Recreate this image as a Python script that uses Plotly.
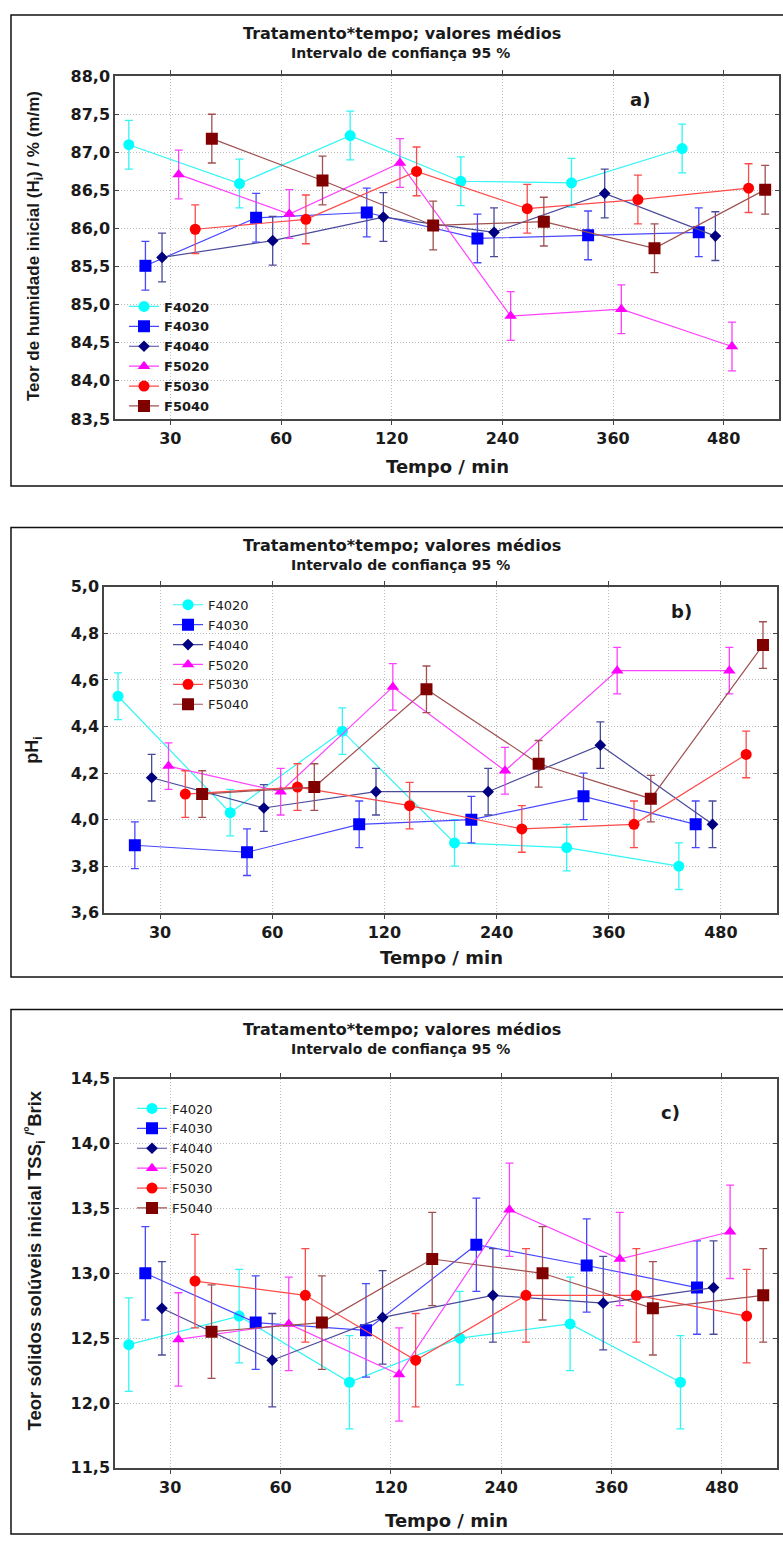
import plotly.graph_objects as go

W, H = 783, 1548

# ---------------- data ----------------
times = ["30", "60", "120", "240", "360", "480"]
series = ["F4020", "F4030", "F4040", "F5020", "F5030", "F5040"]

# a) initial moisture content (%)
a_F4020 = [87.10, 86.59, 87.22, 86.62, 86.60, 87.05]
a_F4030 = [85.51, 86.14, 86.21, 85.87, 85.91, 85.95]
a_F4040 = [85.62, 85.84, 86.15, 85.95, 86.46, 85.90]
a_F5020 = [86.71, 86.19, 86.86, 84.85, 84.94, 84.45]
a_F5030 = [85.99, 86.12, 86.75, 86.26, 86.38, 86.53]
a_F5040 = [87.18, 86.63, 86.04, 86.09, 85.74, 86.51]
a_ci = [0.32, 0.32, 0.32, 0.32, 0.32, 0.32]

# b) initial pH
b_F4020 = [4.53, 4.03, 4.38, 3.90, 3.88, 3.80]
b_F4030 = [3.89, 3.86, 3.98, 4.00, 4.10, 3.98]
b_F4040 = [4.18, 4.05, 4.12, 4.12, 4.32, 3.98]
b_F5020 = [4.23, 4.12, 4.57, 4.21, 4.64, 4.64]
b_F5030 = [4.11, 4.14, 4.06, 3.96, 3.98, 4.28]
b_F5040 = [4.11, 4.14, 4.56, 4.24, 4.09, 4.75]
b_ci = [0.10, 0.10, 0.10, 0.10, 0.10, 0.10]

# c) initial soluble solids (ºBrix)
c_F4020 = [12.45, 12.67, 12.16, 12.50, 12.61, 12.16]
c_F4030 = [13.00, 12.62, 12.56, 13.22, 13.06, 12.89]
c_F4040 = [12.73, 12.33, 12.66, 12.83, 12.77, 12.89]
c_F5020 = [12.49, 12.61, 12.22, 13.49, 13.11, 13.32]
c_F5030 = [12.94, 12.83, 12.33, 12.83, 12.83, 12.67]
c_F5040 = [12.55, 12.62, 13.11, 13.00, 12.73, 12.83]
c_ci = [0.36, 0.36, 0.36, 0.36, 0.36, 0.36]

# ---------------- styles ----------------
marker_colors = ["#00FFFF", "#0000FF", "#000080", "#FF00FF", "#FF0000", "#800000"]
line_colors = ["#33F5F5", "#4848FF", "#4A4A9A", "#FF40FF", "#FF4A4A", "#A05050"]
symbols = ["circle", "square", "diamond", "triangle-up", "circle", "square"]
msizes = [11, 12, 9, 11, 11, 12]
step = 0.15


def X(px):
    return px / W


def Y(py):
    return 1 - py / H


fig = go.Figure()

panels = [
    dict(ax="", leg="legend", data=[a_F4020, a_F4030, a_F4040, a_F5020, a_F5030, a_F5040], ci=a_ci),
    dict(ax="2", leg="legend2", data=[b_F4020, b_F4030, b_F4040, b_F5020, b_F5030, b_F5040], ci=b_ci),
    dict(ax="3", leg="legend3", data=[c_F4020, c_F4030, c_F4040, c_F5020, c_F5030, c_F5040], ci=c_ci),
]

for p in panels:
    for k, name in enumerate(series):
        off = (k - 2.5) * step
        fig.add_trace(go.Scatter(
            x=[i + off for i in range(len(times))],
            y=p["data"][k],
            mode="lines+markers",
            name=name,
            legend=p["leg"],
            xaxis="x" + p["ax"], yaxis="y" + p["ax"],
            line=dict(color=line_colors[k], width=1.2),
            marker=dict(symbol=symbols[k], size=msizes[k], color=marker_colors[k],
                        line=dict(width=0)),
            error_y=dict(type="constant", value=p["ci"][k], color=line_colors[k],
                         thickness=1.3, width=4),
        ))

GRID = "#bdbdbd"
GDASH = "1px,2px"


def xaxis(x0, x1, anchor):
    return dict(domain=[X(x0), X(x1)], anchor=anchor, range=[-0.5, 5.5],
                tickmode="array", tickvals=list(range(len(times))), ticktext=times,
                showgrid=True, gridcolor=GRID, griddash=GDASH, gridwidth=1,
                showline=True, mirror="ticks", linecolor="#444444", linewidth=1.5,
                ticks="outside", ticklen=4, tickcolor="#444444",
                tickfont=dict(family="DejaVu Sans", size=16, color="#1a1a1a", weight="bold"),
                zeroline=False)


def yaxis(y0, y1, anchor, rng, dtick):
    return dict(domain=[Y(y1), Y(y0)], anchor=anchor, range=rng, dtick=dtick, tick0=rng[0],
                tickformat=".1f",
                showgrid=True, gridcolor=GRID, griddash=GDASH, gridwidth=1,
                showline=True, mirror="ticks", linecolor="#444444", linewidth=1.5,
                ticks="inside", ticklen=4, tickcolor="#444444",
                tickfont=dict(family="DejaVu Sans", size=16, color="#1a1a1a", weight="bold"),
                zeroline=False)


legfont_a = dict(family="DejaVu Sans", size=13, color="#1a1a1a", weight="bold")
legfont_bc = dict(family="DejaVu Sans", size=13, color="#1a1a1a")

fig.update_layout(
    width=W, height=H,
    margin=dict(l=0, r=0, t=0, b=0),
    paper_bgcolor="white", plot_bgcolor="white",
    separators=",.",
    font=dict(family="DejaVu Sans", color="#1a1a1a"),
    xaxis=xaxis(115, 779, "y"),
    yaxis=yaxis(68, 415, "x", [83.5, 88.0], 0.5),
    xaxis2=xaxis(104, 777, "y2"),
    yaxis2=yaxis(585, 915, "x2", [3.6, 5.0], 0.2),
    xaxis3=xaxis(115, 777, "y3"),
    yaxis3=yaxis(1083, 1477, "x3", [11.5, 14.5], 0.5),
    legend=dict(x=X(124), y=Y(286), xanchor="left", yanchor="top", itemwidth=30,
                bgcolor="rgba(0,0,0,0)", font=legfont_a, tracegroupgap=0),
    legend2=dict(x=X(168), y=Y(588), xanchor="left", yanchor="top", itemwidth=30,
                 bgcolor="rgba(0,0,0,0)", font=legfont_bc, tracegroupgap=0),
    legend3=dict(x=X(132), y=Y(1098), xanchor="left", yanchor="top", itemwidth=30,
                 bgcolor="rgba(0,0,0,0)", font=legfont_bc, tracegroupgap=0),
)

# outer frames of the three panels
for (t, b) in [(6, 483), (525, 980), (1013, 1544)]:
    fig.add_shape(type="rect", xref="paper", yref="paper",
                  x0=X(11), x1=1.02, y0=Y(b), y1=Y(t),
                  line=dict(color="#111111", width=1.5), fillcolor="rgba(0,0,0,0)", layer="below")

ann = []
title_font = dict(family="DejaVu Sans", size=16, color="#1a1a1a", weight="bold")
sub_font = dict(family="DejaVu Sans", size=14, color="#1a1a1a", weight="bold")
for (ty, sy) in [(25, 45), (543, 563), (1033, 1053)]:
    ann.append(dict(text="Tratamento*tempo; valores médios", x=X(402), y=Y(ty), font=title_font))
    ann.append(dict(text="Intervalo de confiança 95 %", x=X(401), y=Y(sy), font=sub_font))

xt_font = dict(family="DejaVu Sans", size=18, color="#1a1a1a", weight="bold")
for (xx, yy) in [(447, 463), (441, 960), (446, 1530)]:
    ann.append(dict(text="Tempo / min", x=X(xx), y=Y(yy), font=xt_font))

ann.append(dict(text="Teor de humidade inicial (H<sub>i</sub>) / % (m/m)", x=X(35), y=Y(240),
                textangle=-90,
                font=dict(family="Liberation Sans", size=17, color="#1a1a1a", weight="bold")))
ann.append(dict(text="pH<sub>i</sub>", x=X(34), y=Y(750), textangle=-90,
                font=dict(family="Liberation Sans", size=18, color="#1a1a1a", weight="bold")))
ann.append(dict(text="Teor sólidos solúveis inicial TSS<sub>i</sub> <sup>/º</sup>Brix", x=X(35), y=Y(1267),
                textangle=-90,
                font=dict(family="Liberation Sans", size=18.5, color="#1a1a1a", weight="bold")))

lab_font = dict(family="DejaVu Sans", size=18, color="#1a1a1a", weight="bold")
for (t, xx, yy) in [("a)", 640, 92), ("b)", 681, 610), ("c)", 670, 1117)]:
    ann.append(dict(text=t, x=X(xx), y=Y(yy), font=lab_font))

for a in ann:
    a.update(xref="paper", yref="paper", showarrow=False, xanchor="center", yanchor="middle")
fig.update_layout(annotations=ann)

fig.write_html(
    "out.html",
    config={"displayModeBar": False},
    post_script="document.body.style.margin='0';document.body.style.padding='0';"
                "document.documentElement.style.overflow='hidden';",
)
